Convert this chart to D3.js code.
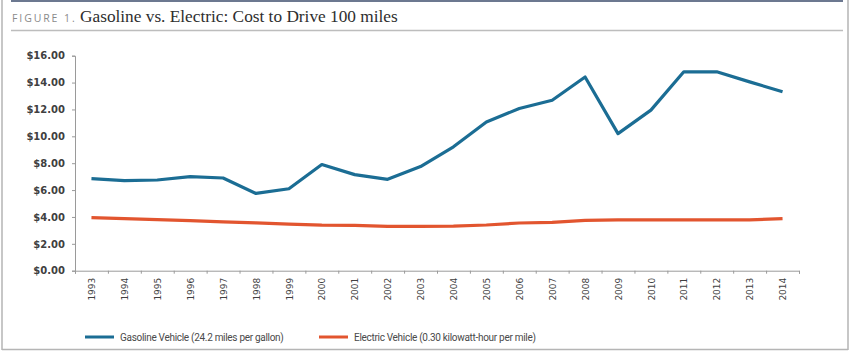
<!DOCTYPE html>
<html>
<head>
<meta charset="utf-8">
<script src="https://cdn.jsdelivr.net/npm/d3@7"></script>
<style>
  body { margin: 0; background: #fff; }
</style>
</head>
<body>
<div id="vizcontainer"></div>
<script>
const years = ['1993', '1994', '1995', '1996', '1997', '1998', '1999', '2000', '2001', '2002', '2003',
  '2004', '2005', '2006', '2007', '2008', '2009', '2010', '2011', '2012', '2013', '2014'];
const gasoline = [6.85, 6.7, 6.75, 7.0, 6.9, 5.75, 6.1, 7.9, 7.15, 6.8, 7.75,
  9.22, 11.07, 12.07, 12.68, 14.42, 10.2, 11.95, 14.8, 14.8, 14.05, 13.32];
const electric = [3.95, 3.87, 3.8, 3.72, 3.64, 3.56, 3.47, 3.39, 3.37, 3.3, 3.3,
  3.31, 3.4, 3.55, 3.6, 3.74, 3.78, 3.78, 3.78, 3.78, 3.78, 3.87];
const yTicks = [0, 2, 4, 6, 8, 10, 12, 14, 16];
const seriesNames = ['Gasoline Vehicle (24.2 miles per gallon)', 'Electric Vehicle (0.30 kilowatt-hour per mile)'];

const
  width = 850,
  height = 352,
  plot = { left: 75, right: 799, top: 55.7, bottom: 270.7 },
  colors = ['#1b6d94', '#e2552f'] // gasoline, electric
  ;

const svg = d3.select('#vizcontainer')
  .append('svg')
  .attr('width', width)
  .attr('height', height);

// frame
svg.append('line').attr('x1', 2).attr('x2', 2).attr('y1', 0).attr('y2', 350)
  .attr('stroke', '#b5b5b5').attr('stroke-width', 1.5);
svg.append('line').attr('x1', 848).attr('x2', 848).attr('y1', 0).attr('y2', 350)
  .attr('stroke', '#b5b5b5').attr('stroke-width', 1.5);
svg.append('line').attr('x1', 2).attr('x2', 848).attr('y1', 349.5).attr('y2', 349.5)
  .attr('stroke', '#b5b5b5').attr('stroke-width', 1.5);
svg.append('line').attr('x1', 11).attr('x2', 843).attr('y1', 1).attr('y2', 1)
  .attr('stroke', '#6c7890').attr('stroke-width', 2);
svg.append('line').attr('x1', 11).attr('x2', 843).attr('y1', 30.5).attr('y2', 30.5)
  .attr('stroke', '#bdbdbd').attr('stroke-width', 1.5);

// title
const title = svg.append('text')
  .attr('x', 12)
  .attr('y', 22);

title.append('tspan')
  .text('FIGURE 1. ')
  .attr('font-family', '"Open Sans", sans-serif')
  .attr('font-size', '10.5px')
  .attr('letter-spacing', '1.9px')
  .attr('fill', '#8a8a8a');

title.append('tspan')
  .text('Gasoline vs. Electric: Cost to Drive 100 miles')
  .attr('x', 80)
  .attr('font-family', '"Liberation Serif", serif')
  .attr('font-size', '17.3px')
  .attr('fill', '#2e2e2e');

// scales
const x = d3.scalePoint()
  .domain(years)
  .range([plot.left, plot.right])
  .padding(0.5);

const xEdges = d3.scaleLinear()
  .domain([0, years.length])
  .range([plot.left, plot.right]);

const y = d3.scaleLinear()
  .domain([0, 16])
  .range([plot.bottom, plot.top]);

// y axis
const yAxis = svg.append('g')
  .attr('transform', `translate(${plot.left},0)`)
  .call(d3.axisLeft(y).tickValues(yTicks).tickSize(3).tickPadding(7).tickFormat(d3.format('$.2f')));

yAxis.selectAll('text')
  .attr('font-family', '"DejaVu Sans", Verdana, sans-serif')
  .attr('font-weight', 'bold')
  .attr('font-size', '10px')
  .attr('fill', '#404040');

// x axis: tick marks on band edges, labels at centres
svg.append('g')
  .attr('transform', `translate(0,${plot.bottom})`)
  .call(d3.axisBottom(xEdges).tickValues(d3.range(years.length + 1)).tickSize(3).tickFormat(''));

const xLabelAxis = svg.append('g')
  .attr('transform', `translate(0,${plot.bottom})`)
  .call(d3.axisBottom(x).tickSize(0));
xLabelAxis.select('.domain').remove();

xLabelAxis.selectAll('text')
  .attr('transform', 'rotate(-90)')
  .attr('text-anchor', 'end')
  .attr('x', -7)
  .attr('y', 0)
  .attr('dy', '0.35em')
  .attr('font-family', '"DejaVu Sans", Verdana, sans-serif')
  .attr('font-size', '9px')
  .attr('fill', '#404040');

svg.selectAll('.domain, .tick line')
  .attr('stroke', '#9a9a9a');

// lines
const line = d3.line()
  .x((d, i) => x(years[i]))
  .y(d => y(d));

[gasoline, electric].forEach((series, i) => {
  svg.append('path')
    .datum(series)
    .attr('d', line)
    .attr('fill', 'none')
    .attr('stroke', colors[i])
    .attr('stroke-width', 3.2)
    .attr('stroke-linejoin', 'round');
});

// legend
const legendX = [85, 319];
const legend = svg.append('g')
  .selectAll('g')
  .data(seriesNames)
  .join('g')
  .attr('transform', (d, i) => `translate(${legendX[i]},337)`);

legend.append('line')
  .attr('x1', 0)
  .attr('x2', 29)
  .attr('stroke', (d, i) => colors[i])
  .attr('stroke-width', 3);

legend.append('text')
  .text(d => d)
  .attr('x', 35)
  .attr('dy', '0.35em')
  .attr('font-family', 'Roboto, sans-serif')
  .attr('font-size', '10px')
  .attr('letter-spacing', '-0.3px')
  .attr('fill', '#4a4a4a');
</script>
</body>
</html>
